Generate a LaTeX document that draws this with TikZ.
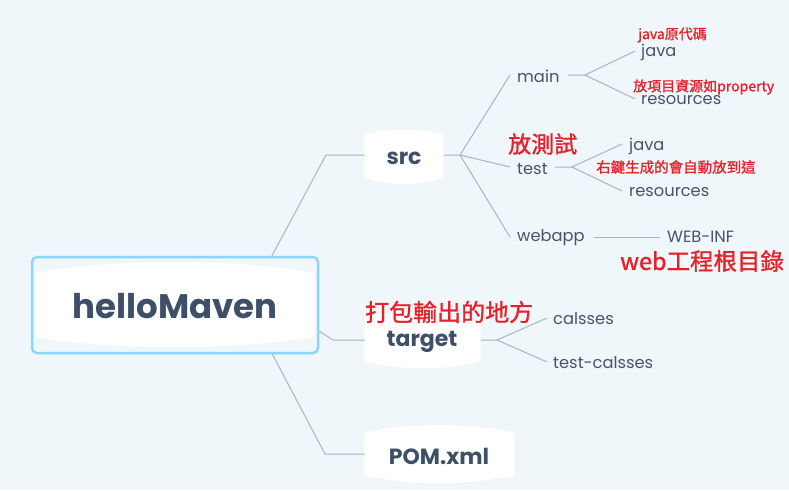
\documentclass[tikz,border=0pt]{standalone}
\usepackage{fontspec}
\setmainfont{Poppins}
\newfontfamily\cjk{Noto Sans CJK TC}[FakeBold=1.2]
\definecolor{bg}{HTML}{EFF7FA}
\definecolor{ln}{HTML}{A6B4C4}
\definecolor{tx}{HTML}{46546C}
\definecolor{hd}{HTML}{3E4F68}
\definecolor{rd}{HTML}{E8202A}
\definecolor{bd}{HTML}{8DD6FB}
\newcommand\barrel[6]{% xl xr ytop ycornertop ycornerbot ybot
  \filldraw[white,line width=3pt,line join=round]
    (#1,#4) .. controls ({#1+0.3*(#2-#1)},#3) and ({#2-0.3*(#2-#1)},#3) .. (#2,#4)
    -- (#2,#5) .. controls ({#2-0.3*(#2-#1)},#6) and ({#1+0.3*(#2-#1)},#6) .. (#1,#5) -- cycle;}
\tikzset{
  conn/.style={draw=ln,line width=1pt},
  leaf/.style={anchor=west,inner sep=0pt,text=tx,font=\fontsize{16.3}{19}\selectfont},
  mid/.style={inner sep=0pt,text=hd,font=\fontsize{22}{26}\selectfont\bfseries},
  note/.style={anchor=west,inner sep=0pt,text=rd},
}
\begin{document}
\begin{tikzpicture}[x=1pt,y=-1pt]
\fill[bg] (0,0) rectangle (789,490);
\useasboundingbox (0,0) rectangle (789,490);
% connectors
\coordinate (r1) at (267,265); \coordinate (e1) at (326,155);
\coordinate (r2) at (316,329); \coordinate (e2) at (333,340);
\coordinate (r3) at (267,344); \coordinate (e3) at (325,454);
\coordinate (s0) at (443,155); \coordinate (sj) at (460,155);
\coordinate (ma) at (510,75); \coordinate (te) at (510,167); \coordinate (we) at (510,237);
\coordinate (m0) at (568,75); \coordinate (mj) at (585,75);
\coordinate (mj1) at (635,51); \coordinate (mr1) at (635,99);
\coordinate (t0) at (555,167); \coordinate (tj) at (572,167);
\coordinate (tj1) at (622,144); \coordinate (tr1) at (622,191);
\coordinate (w0) at (594,237); \coordinate (w1) at (660,237);
\coordinate (g0) at (480,340); \coordinate (gj) at (497,340);
\coordinate (gc) at (547,318); \coordinate (gt) at (547,362);
\coordinate (sw) at (365,155); \coordinate (gw) at (365,340); \coordinate (pw) at (365,454);
\draw[conn] (r1) -- (e1) -- (sw);
\draw[conn] (r2) -- (e2) -- (gw);
\draw[conn] (r3) -- (e3) -- (pw);
\draw[conn] (s0) -- (sj) -- (ma);
\draw[conn] (sj) -- (te);
\draw[conn] (sj) -- (we);
\draw[conn] (m0) -- (mj) -- (mj1);
\draw[conn] (mj) -- (mr1);
\draw[conn] (t0) -- (tj) -- (tj1);
\draw[conn] (tj) -- (tr1);
\draw[conn] (w0) -- (w1);
\draw[conn] (g0) -- (gj) -- (gc);
\draw[conn] (gj) -- (gt);
% root
\draw[bd,line width=2.5pt,rounded corners=5pt,fill=bg] (32,257) rectangle (318,353);
\barrel{37}{313}{260}{274}{336}{349}
\node[inner sep=0pt,text=hd,font=\fontsize{34}{40}\selectfont\bfseries] (root) at (175,306) {helloMaven};
% mid nodes
\barrel{366}{442}{129}{136}{176}{185}
\node[mid] (src) at (404,158) {src};
\barrel{366}{479}{311}{318}{360}{369}
\node[mid] (target) at (422,342) {target};
\barrel{366}{513}{424}{434}{474}{484}
\node[mid] (pom) at (439,456) {POM.xml};
% leaves
\node[leaf] (main) at (517,76) {main};
\node[leaf] (test) at (517,169) {test};
\node[leaf] (webapp) at (517,238) {webapp};
\node[leaf] (mjava) at (641,52) {java};
\node[leaf] (mres) at (641,100) {resources};
\node[leaf] (tjava) at (629,146) {java};
\node[leaf] (tres) at (629,192) {resources};
\node[leaf] (webinf) at (667,237) {WEB-INF};
\node[leaf] (cls) at (553,319) {calsses};
\node[leaf] (tcls) at (553,363) {test-calsses};
% notes
\node[note,font=\cjk\fontsize{14}{16}\selectfont] (n1) at (638,35) {java原代碼};
\node[note,font=\cjk\fontsize{14}{16}\selectfont] (n2) at (633,87) {放項目資源如property};
\node[note,font=\cjk\fontsize{23}{26}\selectfont] (n3) at (508,144) {放測試};
\node[note,font=\cjk\fontsize{14.5}{16}\selectfont] (n4) at (596,167) {右鍵生成的會自動放到這};
\node[note,font=\cjk\fontsize{23.5}{28}\selectfont] (n5) at (620,261) {web工程根目錄};
\node[note,font=\cjk\fontsize{24}{28}\selectfont] (n6) at (365,312) {打包輸出的地方};
\end{tikzpicture}
\end{document}
